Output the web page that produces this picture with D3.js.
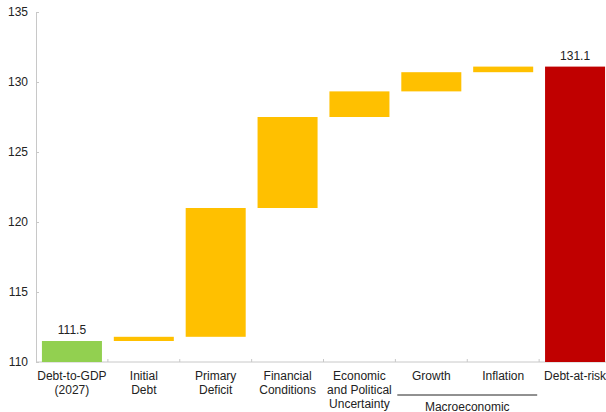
<!DOCTYPE html>
<html>
<head>
<meta charset="utf-8">
<script src="https://cdn.jsdelivr.net/npm/d3@7"></script>
<style>
  body { margin: 0; background: #fff; }
  svg { display: block; font-family: "Liberation Sans", Arial, sans-serif; }
</style>
</head>
<body>
<div class="chart"></div>
<script>
// categories and waterfall values (start / end of each bar)
const categories = ["Debt-to-GDP\n(2027)", "Initial\nDebt", "Primary\nDeficit", "Financial\nConditions",
  "Economic\nand Political\nUncertainty\nRisk", "Growth", "Inflation", "Debt-at-risk"];
const barStart = [110, 111.5, 111.8, 121.0, 127.5, 129.33, 130.7, 110];
const barEnd = [111.5, 111.8, 121.0, 127.5, 129.33, 130.7, 131.1, 131.1];
const barType = ["total", "step", "step", "step", "step", "step", "step", "risk"];
const valueLabels = ["111.5", "", "", "", "", "", "", "131.1"];
const yTicks = [110, 115, 120, 125, 130, 135];
const groupLabel = "Macroeconomic";
const groupMembers = ["Growth", "Inflation"];

const colors = { total: "#92d050", step: "#ffc000", risk: "#c00000" };

var margin = { top: 12, right: -5, bottom: 50, left: 36 },
    width = 606 - margin.left - margin.right,
    height = 412 - margin.top - margin.bottom;

var x = d3.scaleBand()
    .domain(categories)
    .range([0, width])
    .paddingInner(0.165)
    .paddingOuter(0.0825);

var y = d3.scaleLinear()
    .domain([110, 135])
    .range([height, 0]);

var svg = d3.select(".chart").append("svg")
    .attr("width", 606)
    .attr("height", 412)
    .append("g")
    .attr("transform", "translate(" + margin.left + "," + margin.top + ")");

// y axis
var yAxis = d3.axisLeft(y).tickValues(yTicks).tickSize(-3).tickPadding(8);
var yg = svg.append("g").call(yAxis);
yg.select(".domain").attr("stroke", "#c8c8c8");
yg.selectAll(".tick line").attr("stroke", "#c8c8c8");
yg.selectAll("text").attr("font-size", 12).attr("fill", "#222");

// x baseline with category separators
svg.append("line")
    .attr("x1", 0).attr("x2", width)
    .attr("y1", height).attr("y2", height)
    .attr("stroke", "#c8c8c8");

var step = x.step();
svg.selectAll(".sep")
    .data(categories.slice(1))
    .enter().append("line")
    .attr("x1", function (d) { return x(d) - step * x.paddingInner() / 2; })
    .attr("x2", function (d) { return x(d) - step * x.paddingInner() / 2; })
    .attr("y1", height).attr("y2", height - 3)
    .attr("stroke", "#c8c8c8");

// bars
svg.selectAll(".bar")
    .data(categories)
    .enter().append("rect")
    .attr("x", function (d) { return x(d); })
    .attr("width", x.bandwidth())
    .attr("y", function (d, i) { return y(Math.max(barStart[i], barEnd[i])); })
    .attr("height", function (d, i) { return Math.abs(y(barStart[i]) - y(barEnd[i])); })
    .attr("fill", function (d, i) { return colors[barType[i]]; });

// value labels
svg.selectAll(".val")
    .data(categories)
    .enter().append("text")
    .attr("x", function (d) { return x(d) + x.bandwidth() / 2; })
    .attr("y", function (d, i) { return y(barEnd[i]) - 7; })
    .attr("text-anchor", "middle")
    .attr("font-size", 12)
    .attr("fill", "#222")
    .text(function (d, i) { return valueLabels[i]; });

// category labels
var labels = svg.selectAll(".cat")
    .data(categories)
    .enter().append("text")
    .attr("text-anchor", "middle")
    .attr("font-size", 12)
    .attr("fill", "#222")
    .attr("transform", function (d) {
        return "translate(" + (x(d) + x.bandwidth() / 2) + "," + (height + 18) + ")";
    });
labels.selectAll("tspan")
    .data(function (d) { return d.split("\n"); })
    .enter().append("tspan")
    .attr("x", 0)
    .attr("dy", function (d, i) { return i === 0 ? 0 : 14; })
    .text(function (d) { return d; });

// group bracket for macroeconomic
var gx0 = x(groupMembers[0]) - 4;
var gx1 = x(groupMembers[1]) + x.bandwidth() + 4;
svg.append("line")
    .attr("x1", gx0).attr("x2", gx1)
    .attr("y1", height + 33).attr("y2", height + 33)
    .attr("stroke", "#222").attr("stroke-width", 1);
svg.append("text")
    .attr("x", (gx0 + gx1) / 2)
    .attr("y", height + 49)
    .attr("text-anchor", "middle")
    .attr("font-size", 12)
    .attr("fill", "#222")
    .text(groupLabel);
</script>
</body>
</html>
